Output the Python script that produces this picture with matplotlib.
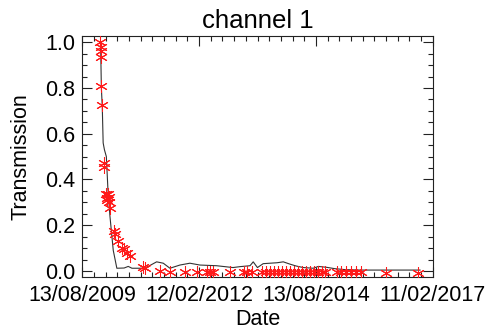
import numpy as np
import matplotlib
matplotlib.use("Agg")
import matplotlib.pyplot as plt
import matplotlib.dates as mdates

plt.rcParams['font.family'] = ['Liberation Sans', 'DejaVu Sans']

# measured transmission (red asterisks)
meas_dates = [
    "2010-01-01", "2010-01-03", "2010-01-04", "2010-01-05", "2010-01-08", "2010-01-16",
    "2010-01-27", "2010-01-31", "2010-02-13", "2010-02-19", "2010-02-25", "2010-03-03",
    "2010-03-09", "2010-03-13", "2010-03-19", "2010-04-17", "2010-04-27", "2010-05-21",
    "2010-06-19", "2010-07-08", "2010-07-28", "2010-08-20", "2010-12-04", "2010-12-19",
    "2011-04-12", "2011-06-29", "2011-10-24", "2012-01-26", "2012-04-13", "2012-05-11",
    "2012-06-03", "2012-10-10", "2013-01-28", "2013-02-24", "2013-03-31", "2013-06-17",
    "2013-07-19", "2013-08-19", "2013-09-19", "2013-10-20", "2013-11-21", "2013-12-22",
    "2014-01-22", "2014-02-22", "2014-03-26", "2014-04-26", "2014-05-27", "2014-06-28",
    "2014-07-29", "2014-08-29", "2014-09-29", "2014-10-23", "2015-01-25", "2015-02-25",
    "2015-04-05", "2015-05-14", "2015-06-22", "2015-07-31", "2016-02-12", "2016-10-19",
]
meas_vals = [
    1.00, 0.98, 0.96, 0.935, 0.81, 0.725,
    0.47, 0.455, 0.335, 0.32, 0.31, 0.335,
    0.325, 0.30, 0.275, 0.175, 0.16, 0.13,
    0.10, 0.095, 0.08, 0.065, 0.018, 0.012,
    -0.002, -0.005, -0.005, -0.003, -0.003, -0.004,
    -0.003, -0.006, -0.003, -0.005, -0.003, -0.005,
    -0.004, -0.006, -0.005, -0.004, -0.006, -0.005,
    -0.004, -0.006, -0.005, -0.004, -0.006, -0.005,
    -0.004, -0.006, -0.005, -0.004, -0.006, -0.005,
    -0.004, -0.006, -0.005, -0.004, -0.008, -0.008,
]

# reference curve (black line)
ref_dates = [
    "2010-01-03", "2010-01-05", "2010-01-09", "2010-01-16", "2010-01-23", "2010-02-02",
    "2010-02-17", "2010-03-01", "2010-03-17", "2010-04-12", "2010-05-10", "2010-07-06",
    "2010-08-07", "2010-09-05", "2010-12-15", "2011-03-17", "2011-05-08", "2011-06-29",
    "2011-09-15", "2011-12-02", "2012-02-18", "2012-06-28", "2012-11-03", "2012-12-28",
    "2013-03-16", "2013-04-10", "2013-05-13", "2013-06-27", "2013-08-19", "2013-10-13",
    "2013-12-01", "2014-01-22", "2014-03-10", "2014-05-06", "2014-07-23", "2014-09-01",
    "2014-11-05", "2015-01-09", "2015-03-28", "2015-07-24", "2016-11-04",
]
ref_vals = [
    1.00, 0.93, 0.80, 0.72, 0.56, 0.53,
    0.50, 0.36, 0.24, 0.09, 0.012, 0.013,
    0.02, 0.012, 0.012, 0.04, 0.034, 0.012,
    0.026, 0.034, 0.026, 0.023, 0.015, 0.019,
    0.023, 0.04, 0.015, 0.032, 0.034, 0.036,
    0.04, 0.03, 0.022, 0.015, 0.012, 0.02,
    0.016, 0.010, 0.006, 0.004, 0.004,
]

tick_dates = ["2009-08-13", "2012-02-12", "2014-08-13", "2017-02-11"]
tick_labels = ["13/08/2009", "12/02/2012", "13/08/2014", "11/02/2017"]

meas_x = np.array(meas_dates, dtype="datetime64[D]")
ref_x = np.array(ref_dates, dtype="datetime64[D]")
tick_x = mdates.date2num(np.array(tick_dates, dtype="datetime64[D]"))

fig = plt.figure(figsize=(4.87, 3.30), dpi=100)
ax = fig.add_axes([0.169, 0.1615, 0.7195, 0.7295])

ax.plot(ref_x, ref_vals, color="#333333", lw=0.8, zorder=2)
ax.plot(meas_x, meas_vals, ls="none", marker=(6, 2, 0), ms=9,
        mec="#ff1a1a", mew=0.75, zorder=3)

ax.set_xlim(tick_x[0], tick_x[-1])
ax.set_ylim(-0.025, 1.0275)

ax.set_xticks(tick_x)
ax.set_xticklabels(tick_labels)
step = (tick_x[1] - tick_x[0]) / 10
ax.set_xticks(np.arange(tick_x[0], tick_x[-1] + 1, step), minor=True)
ax.set_yticks(np.arange(0, 1.01, 0.2))
ax.set_yticklabels(["%.1f" % v for v in np.arange(0, 1.01, 0.2)])
ax.set_yticks(np.arange(0, 1.01, 0.05), minor=True)

ax.tick_params(which="both", direction="in", top=True, right=True,
               labelsize=15.5, width=0.8, color="#222222")
ax.tick_params(which="major", length=7)
ax.tick_params(which="minor", length=3.5)
ax.tick_params(axis="x", pad=6)
ax.tick_params(axis="y", pad=5)
for s in ax.spines.values():
    s.set_linewidth(0.8)
    s.set_color("#222222")

ax.set_title("channel 1", fontsize=18.5, pad=6)
ax.set_xlabel("Date", fontsize=15.5, labelpad=2)
ax.set_ylabel("Transmission", fontsize=15.5, labelpad=10)

fig.savefig("out.png", dpi=100)
